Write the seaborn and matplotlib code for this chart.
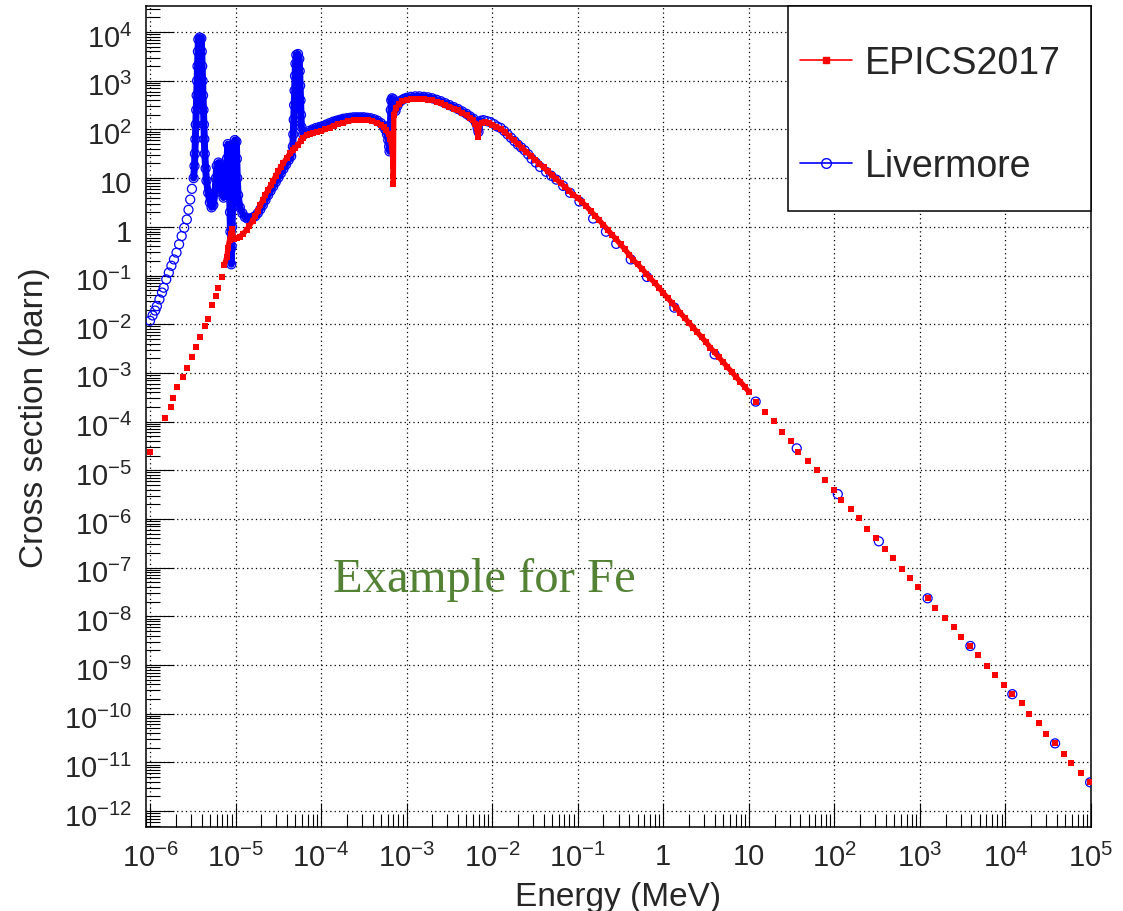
import numpy as np
import pandas as pd
import matplotlib
matplotlib.use("Agg")
import matplotlib.pyplot as plt
from matplotlib.lines import Line2D
from matplotlib.patches import Rectangle
from matplotlib.transforms import ScaledTranslation
from matplotlib.ticker import FuncFormatter, NullFormatter
import seaborn as sns

# values, stored as log10(E / MeV) and log10(sigma / barn)
epics_log_e = [
    -6.00, -5.82, -5.76, -5.73, -5.68, -5.62, -5.57, -5.51, -5.46, -5.42,
    -5.36, -5.32, -5.27, -5.23, -5.20, -5.16, -5.13, -5.10, -5.09, -5.07,
    -5.055, -5.04, -5.02, -4.98, -4.95, -4.91, -4.87, -4.84, -4.80, -4.77,
    -4.74, -4.71, -4.68, -4.65, -4.62, -4.59, -4.56, -4.53, -4.50, -4.47,
    -4.44, -4.40, -4.36, -4.33, -4.30, -4.27, -4.24, -4.21, -4.17, -4.13,
    -4.09, -4.05, -4.00, -3.95, -3.90, -3.85, -3.80, -3.74, -3.68, -3.62,
    -3.56, -3.50, -3.45, -3.40, -3.35, -3.30, -3.27, -3.24, -3.21, -3.19,
    -3.175, -3.165, -3.16, -3.157, -3.155, -3.15, -3.12, -3.09, -3.05, -3.00,
    -2.95, -2.90, -2.85, -2.80, -2.75, -2.70, -2.65, -2.60, -2.55, -2.50,
    -2.45, -2.40, -2.35, -2.30, -2.26, -2.22, -2.20, -2.18, -2.165, -2.15,
    -2.12, -2.08, -2.04, -2.00, -1.95, -1.90, -1.85, -1.80, -1.75, -1.70,
    -1.65, -1.60, -1.55, -1.50, -1.45, -1.40, -1.35, -1.30, -1.25, -1.20,
    -1.15, -1.10, -1.05, -1.00, -0.95, -0.90, -0.85, -0.80, -0.75, -0.70,
    -0.65, -0.60, -0.55, -0.50, -0.45, -0.40, -0.35, -0.30, -0.25, -0.20,
    -0.15, -0.10, -0.05, 0.00, 0.05, 0.10, 0.15, 0.20, 0.25, 0.30,
    0.35, 0.40, 0.45, 0.50, 0.55, 0.60, 0.65, 0.70, 0.75, 0.80,
    0.85, 0.90, 0.95, 1.00, 1.08, 1.19, 1.29, 1.39, 1.49, 1.58,
    1.69, 1.80, 1.89, 2.00, 2.08, 2.19, 2.29, 2.38, 2.49, 2.59,
    2.68, 2.79, 2.88, 2.98, 3.09, 3.18, 3.29, 3.40, 3.48, 3.59,
    3.68, 3.78, 3.88, 3.98, 4.08, 4.19, 4.28, 4.39, 4.47, 4.58,
    4.69, 4.77, 4.88, 4.99,
]
epics_log_xs = [
    -4.63, -3.92, -3.70, -3.51, -3.29, -3.08, -2.89, -2.67, -2.46, -2.26,
    -2.04, -1.89, -1.60, -1.42, -1.26, -1.03, -0.78, -0.61, -0.44, -0.27,
    -0.14, -0.05, -0.25, -0.23, -0.20, -0.14, -0.06, 0.02, 0.12, 0.22,
    0.33, 0.45, 0.55, 0.66, 0.75, 0.85, 0.94, 1.05, 1.14, 1.23,
    1.31, 1.42, 1.51, 1.57, 1.62, 1.69, 1.76, 1.83, 1.88, 1.91,
    1.93, 1.95, 1.97, 2.00, 2.04, 2.08, 2.11, 2.14, 2.17, 2.19,
    2.20, 2.20, 2.19, 2.17, 2.14, 2.10, 2.05, 1.98, 1.90, 1.80,
    1.65, 1.45, 1.25, 1.05, 0.89, 2.30, 2.45, 2.53, 2.58, 2.61,
    2.62, 2.63, 2.63, 2.62, 2.61, 2.60, 2.57, 2.54, 2.50, 2.47,
    2.43, 2.39, 2.34, 2.29, 2.24, 2.19, 2.12, 2.02, 1.85, 2.10,
    2.14, 2.15, 2.13, 2.10, 2.06, 2.01, 1.94, 1.86, 1.78, 1.70,
    1.62, 1.54, 1.46, 1.38, 1.30, 1.22, 1.14, 1.06, 0.98, 0.90,
    0.82, 0.74, 0.65, 0.60, 0.51, 0.42, 0.33, 0.23, 0.14, 0.04,
    -0.06, -0.16, -0.26, -0.36, -0.46, -0.57, -0.68, -0.77, -0.86, -0.96,
    -1.06, -1.15, -1.25, -1.36, -1.46, -1.56, -1.66, -1.77, -1.87, -1.97,
    -2.07, -2.17, -2.27, -2.37, -2.48, -2.58, -2.68, -2.78, -2.88, -2.98,
    -3.08, -3.18, -3.28, -3.39, -3.59, -3.81, -3.99, -4.21, -4.40, -4.62,
    -4.80, -4.99, -5.21, -5.40, -5.62, -5.80, -5.99, -6.21, -6.40, -6.62,
    -6.81, -7.02, -7.21, -7.40, -7.63, -7.82, -8.03, -8.22, -8.43, -8.61,
    -8.80, -9.02, -9.20, -9.41, -9.60, -9.79, -10.01, -10.20, -10.42, -10.61,
    -10.83, -11.01, -11.21, -11.41,
]

livermore_log_e = [
    -6.00, -5.97, -5.94, -5.92, -5.89, -5.86, -5.84, -5.81, -5.78, -5.75,
    -5.72, -5.69, -5.66, -5.63, -5.60, -5.57, -5.55, -5.53, -5.51, -5.49,
    -5.48, -5.475, -5.47, -5.465, -5.46, -5.455, -5.45, -5.445, -5.44, -5.435,
    -5.42, -5.40, -5.395, -5.39, -5.385, -5.38, -5.375, -5.37, -5.365, -5.36,
    -5.35, -5.34, -5.32, -5.30, -5.28, -5.26, -5.24, -5.23, -5.22, -5.20,
    -5.18, -5.17, -5.16, -5.14, -5.12, -5.11, -5.10, -5.09, -5.08, -5.075,
    -5.07, -5.065, -5.06, -5.055, -5.05, -5.045, -5.04, -5.035, -5.03, -5.025,
    -5.02, -5.01, -4.99, -4.985, -4.98, -4.97, -4.95, -4.92, -4.89, -4.86,
    -4.83, -4.80, -4.77, -4.74, -4.71, -4.68, -4.65, -4.62, -4.59, -4.56,
    -4.53, -4.50, -4.47, -4.44, -4.41, -4.38, -4.35, -4.33, -4.325, -4.32,
    -4.315, -4.31, -4.305, -4.30, -4.29, -4.27, -4.255, -4.25, -4.245, -4.24,
    -4.235, -4.23, -4.21, -4.18, -4.14, -4.10, -4.06, -4.02, -3.98, -3.94,
    -3.90, -3.86, -3.82, -3.78, -3.74, -3.70, -3.66, -3.62, -3.58, -3.54,
    -3.50, -3.46, -3.42, -3.38, -3.34, -3.30, -3.27, -3.25, -3.23, -3.215,
    -3.205, -3.20, -3.195, -3.19, -3.185, -3.18, -3.17, -3.155, -3.14, -3.13,
    -3.11, -3.09, -3.06, -3.03, -3.00, -2.95, -2.90, -2.85, -2.80, -2.75,
    -2.70, -2.65, -2.60, -2.55, -2.50, -2.45, -2.40, -2.35, -2.30, -2.26,
    -2.22, -2.19, -2.17, -2.16, -2.15, -2.13, -2.10, -2.06, -2.02, -1.98,
    -1.94, -1.90, -1.86, -1.82, -1.78, -1.74, -1.70, -1.66, -1.62, -1.58,
    -1.54, -1.49, -1.44, -1.37, -1.31, -1.25, -1.17, -1.09, -0.98, -0.82,
    -0.67, -0.55, -0.38, -0.19, 0.13, 0.60, 1.08, 1.56, 2.04, 2.52,
    3.09, 3.59, 4.08, 4.58, 4.99,
]
livermore_log_xs = [
    -1.93, -1.82, -1.72, -1.63, -1.49, -1.35, -1.25, -1.08, -0.94, -0.80,
    -0.67, -0.53, -0.36, -0.19, -0.02, 0.15, 0.35, 0.56, 0.78, 1.00,
    1.25, 1.50, 1.80, 2.10, 2.40, 2.70, 3.00, 3.30, 3.60, 3.85,
    3.89, 3.87, 3.60, 3.30, 3.00, 2.70, 2.40, 2.10, 1.80, 1.50,
    1.20, 0.95, 0.70, 0.50, 0.40, 0.45, 0.70, 1.00, 1.25, 1.32,
    1.28, 1.00, 0.75, 0.60, 0.80, 1.10, 1.40, 1.70, 1.45, 1.10,
    0.70, 0.30, -0.10, -0.45, -0.77, -0.40, 0.00, 0.40, 0.80, 1.20,
    1.55, 1.78, 1.75, 1.40, 1.00, 0.65, 0.40, 0.28, 0.20, 0.17,
    0.17, 0.19, 0.22, 0.28, 0.36, 0.45, 0.55, 0.65, 0.74, 0.83,
    0.92, 1.01, 1.10, 1.19, 1.28, 1.37, 1.45, 1.65, 1.90, 2.20,
    2.50, 2.80, 3.10, 3.35, 3.53, 3.55, 3.45, 3.20, 2.90, 2.60,
    2.30, 2.05, 1.90, 1.92, 1.97, 2.00, 2.03, 2.05, 2.07, 2.10,
    2.13, 2.16, 2.18, 2.20, 2.22, 2.23, 2.24, 2.25, 2.25, 2.25,
    2.25, 2.24, 2.23, 2.21, 2.18, 2.13, 2.07, 2.00, 1.90, 1.78,
    1.65, 1.55, 1.80, 2.10, 2.40, 2.60, 2.64, 2.62, 2.45, 2.38,
    2.48, 2.55, 2.60, 2.63, 2.65, 2.67, 2.68, 2.68, 2.67, 2.66,
    2.64, 2.61, 2.58, 2.54, 2.50, 2.46, 2.42, 2.37, 2.32, 2.27,
    2.22, 2.14, 2.03, 1.95, 2.14, 2.18, 2.19, 2.17, 2.15, 2.11,
    2.06, 2.03, 1.97, 1.90, 1.83, 1.76, 1.69, 1.63, 1.57, 1.49,
    1.40, 1.32, 1.23, 1.13, 1.05, 0.97, 0.84, 0.70, 0.52, 0.17,
    -0.10, -0.35, -0.67, -1.03, -1.66, -2.62, -3.59, -4.55, -5.49, -6.46,
    -7.63, -8.61, -9.60, -10.61, -11.41,
]

# decades that carry a label on each axis
x_decades = list(range(-6, 6))
y_decades = list(range(-12, 5))

epics = pd.DataFrame({"energy": np.power(10.0, epics_log_e),
                      "xs": np.power(10.0, epics_log_xs)})
livermore = pd.DataFrame({"energy": np.power(10.0, livermore_log_e),
                          "xs": np.power(10.0, livermore_log_xs)})

# dense parts of the tables, where the markers merge into a band
epics_dense = epics[(epics.energy > 10 ** -5.14) & (epics.energy < 10.5)]
liv_dense = livermore[(livermore.energy > 10 ** -5.5) & (livermore.energy < 10 ** -2.12)]

sns.set_style("white")
plt.rcParams["font.family"] = ["Liberation Sans", "DejaVu Sans"]
plt.rcParams["mathtext.default"] = "regular"

fig = plt.figure(figsize=(11.23, 9.12), dpi=100)
ax = fig.add_axes([0.130, 0.092, 0.8415, 0.900])
ax.set_xscale("log")
ax.set_yscale("log")

# Livermore first, EPICS on top
sns.lineplot(data=liv_dense, x="energy", y="xs", sort=False, estimator=None,
             color="blue", linewidth=5, ax=ax, legend=False)
sns.scatterplot(data=livermore, x="energy", y="xs", marker="o", s=42,
                facecolors="none", edgecolor="blue", linewidth=0.9,
                ax=ax, legend=False, zorder=3)
sns.lineplot(data=epics_dense, x="energy", y="xs", sort=False, estimator=None,
             color="red", linewidth=3.8, ax=ax, legend=False, zorder=4)
sns.scatterplot(data=epics, x="energy", y="xs", marker="s", s=18,
                color="red", linewidth=0, ax=ax, legend=False, zorder=5)

xlo, xhi = 10 ** -6.047, 1.0e5
ylo, yhi = 10 ** -12.33, 10 ** 4.53
ax.set_xlim(xlo, xhi)
ax.set_ylim(ylo, yhi)


def root_log(v, pos):
    k = int(round(np.log10(v)))
    if k == 0:
        return "1"
    if k == 1:
        return "10"
    return r"$10^{%d}$" % k


def minor_ticks(lo, hi):
    out = []
    for k in range(int(np.floor(np.log10(lo))), int(np.ceil(np.log10(hi))) + 1):
        for m in range(2, 10):
            t = m * 10.0 ** k
            if lo <= t <= hi:
                out.append(t)
    return out


ax.set_xticks([10.0 ** k for k in x_decades])
ax.set_yticks([10.0 ** k for k in y_decades])
ax.set_xticks(minor_ticks(xlo, xhi), minor=True)
ax.set_yticks(minor_ticks(ylo, yhi), minor=True)
for axis in (ax.xaxis, ax.yaxis):
    axis.set_major_formatter(FuncFormatter(root_log))
    axis.set_minor_formatter(NullFormatter())
ax.set_xlim(xlo, xhi)
ax.set_ylim(ylo, yhi)

ax.tick_params(axis="both", which="both", direction="in", color="black",
               width=0.8, top=False, right=False, bottom=True, left=True)
ax.tick_params(axis="x", which="major", length=17, pad=11, labelsize=21)
ax.tick_params(axis="x", which="minor", length=9.5)
ax.tick_params(axis="y", which="major", length=20, pad=10, labelsize=21)
ax.tick_params(axis="y", which="minor", length=10)

# ROOT puts the "10" of each label a little below the tick
shift = ScaledTranslation(0, -3 / 100, fig.dpi_scale_trans)
for lab in ax.get_yticklabels():
    lab.set_transform(lab.get_transform() + shift)

ax.grid(True, which="major", color="black", linestyle=(0, (1, 2.5)), linewidth=0.9)
for sp in ax.spines.values():
    sp.set_color("black")
    sp.set_linewidth(1.1)

ax.set_xlabel("Energy (MeV)", fontsize=24, va="top")
ax.set_ylabel("Cross section (barn)", fontsize=24)
ax.xaxis.set_label_coords(0.5, -0.066)
ax.yaxis.set_label_coords(-0.102, 0.5)

ax.text(0.198, 0.302, "Example for Fe", transform=ax.transAxes,
        fontsize=35, family="Liberation Serif", color="#548235",
        ha="left", va="center")

# legend frame as in the ROOT canvas, entries placed inside it
ax.add_patch(Rectangle((0.679, 0.7512), 0.321, 0.2488, transform=ax.transAxes,
                       facecolor="white", edgecolor="black", linewidth=1.1,
                       zorder=6, clip_on=False))
handles = [
    Line2D([], [], color="red", linewidth=1.2, marker="s", markersize=4),
    Line2D([], [], color="blue", linewidth=1.2, marker="o", markersize=7,
           markerfacecolor="none", markeredgewidth=1.0),
]
leg = ax.legend(handles, ["EPICS2017", "Livermore"], loc="upper left",
                bbox_to_anchor=(0.692, 0.9525), borderaxespad=0, borderpad=0,
                fontsize=27, frameon=False, handlelength=1.4,
                handletextpad=0.32, labelspacing=1.79)
leg.set_zorder(7)

fig.savefig("out.png", dpi=100)
